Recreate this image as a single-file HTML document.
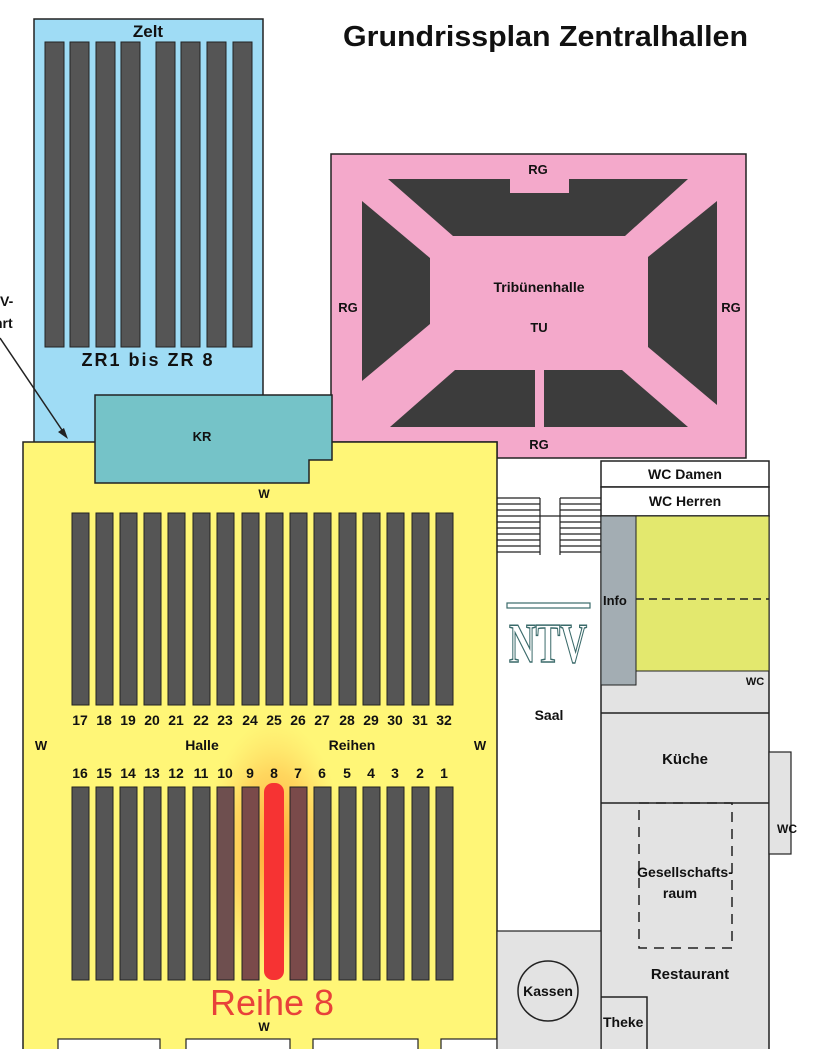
<!DOCTYPE html>
<html><head><meta charset="utf-8"><style>
html,body{margin:0;padding:0;background:#fff;width:819px;height:1049px;overflow:hidden}
svg{display:block}
text{font-family:"Liberation Sans",sans-serif;font-weight:bold;fill:#111}
</style></head><body>
<svg width="819" height="1049" viewBox="0 0 819 1049" xmlns="http://www.w3.org/2000/svg">
<defs>
<radialGradient id="glow" cx="0.5" cy="0.5" r="0.5">
<stop offset="0" stop-color="#ff9a2a" stop-opacity="0.9"/>
<stop offset="0.6" stop-color="#ffb040" stop-opacity="0.45"/>
<stop offset="1" stop-color="#ffd060" stop-opacity="0"/>
</radialGradient>
</defs>
<!-- Title -->
<text x="343" y="46" font-size="29" textLength="405" lengthAdjust="spacingAndGlyphs">Grundrissplan Zentralhallen</text>

<!-- Zelt -->
<rect x="34" y="19" width="229" height="425" fill="#9fdcf5" stroke="#222" stroke-width="1.5"/>
<text x="148" y="37" font-size="17" text-anchor="middle" fill="#222">Zelt</text>
<g fill="#555" stroke="#222" stroke-width="1">
<rect x="45" y="42" width="19" height="305"/><rect x="70" y="42" width="19" height="305"/>
<rect x="96" y="42" width="19" height="305"/><rect x="121" y="42" width="19" height="305"/>
<rect x="156" y="42" width="19" height="305"/><rect x="181" y="42" width="19" height="305"/>
<rect x="207" y="42" width="19" height="305"/><rect x="233" y="42" width="19" height="305"/>
</g>
<text x="148" y="366" font-size="18" text-anchor="middle" letter-spacing="2" fill="#222">ZR1 bis ZR 8</text>

<!-- Pink Tribünenhalle -->
<polygon points="331,154 746,154 746,458 497,458 497,442 331,442" fill="#f4a9cb" stroke="#222" stroke-width="1.5"/>
<g fill="#3c3c3c">
<polygon points="388,179 510,179 510,193 569,193 569,179 688,179 625,236 453,236"/>
<polygon points="362,201 430,258 430,324 362,381"/>
<polygon points="717,201 717,405 648,347 648,257"/>
<polygon points="455,370 535,370 535,427 390,427"/>
<polygon points="544,370 622,370 688,427 544,427"/>
</g>
<text x="538" y="174" font-size="13" text-anchor="middle">RG</text>
<text x="539" y="292" font-size="14" text-anchor="middle">Tribünenhalle</text>
<text x="539" y="332" font-size="13" text-anchor="middle">TU</text>
<text x="348" y="312" font-size="13" text-anchor="middle">RG</text>
<text x="731" y="312" font-size="13" text-anchor="middle">RG</text>
<text x="539" y="449" font-size="13" text-anchor="middle">RG</text>

<!-- Yellow hall -->
<rect x="23" y="442" width="474" height="620" fill="#fff677" stroke="#222" stroke-width="1.5"/>
<!-- KR -->
<polygon points="95,395 332,395 332,460 309,460 309,483 95,483" fill="#75c3c8" stroke="#222" stroke-width="1.5"/>
<text x="202" y="441" font-size="13" text-anchor="middle">KR</text>
<text x="264" y="498" font-size="12" text-anchor="middle">W</text>

<!-- arrow -->
<line x1="0" y1="338" x2="66" y2="436" stroke="#222" stroke-width="1.5"/>
<polygon points="68,439 58,432 64,428" fill="#222"/>
<text x="0" y="306" font-size="14">V-</text>
<text x="-6" y="328" font-size="14">hrt</text>

<!-- Hall rows -->
<g fill="#555" stroke="#222" stroke-width="1">
<rect x="72" y="513" width="17" height="192"/><rect x="96" y="513" width="17" height="192"/>
<rect x="120" y="513" width="17" height="192"/><rect x="144" y="513" width="17" height="192"/>
<rect x="168" y="513" width="17" height="192"/><rect x="193" y="513" width="17" height="192"/>
<rect x="217" y="513" width="17" height="192"/><rect x="242" y="513" width="17" height="192"/>
<rect x="266" y="513" width="17" height="192"/><rect x="290" y="513" width="17" height="192"/>
<rect x="314" y="513" width="17" height="192"/><rect x="339" y="513" width="17" height="192"/>
<rect x="363" y="513" width="17" height="192"/><rect x="387" y="513" width="17" height="192"/>
<rect x="412" y="513" width="17" height="192"/><rect x="436" y="513" width="17" height="192"/>
</g>
<g font-size="14" text-anchor="middle">
<text x="80" y="725">17</text><text x="104" y="725">18</text><text x="128" y="725">19</text><text x="152" y="725">20</text>
<text x="176" y="725">21</text><text x="201" y="725">22</text><text x="225" y="725">23</text><text x="250" y="725">24</text>
<text x="274" y="725">25</text><text x="298" y="725">26</text><text x="322" y="725">27</text><text x="347" y="725">28</text>
<text x="371" y="725">29</text><text x="395" y="725">30</text><text x="420" y="725">31</text><text x="444" y="725">32</text>
</g>
<text x="202" y="750" font-size="14" text-anchor="middle">Halle</text>
<text x="352" y="750" font-size="14" text-anchor="middle">Reihen</text>
<text x="41" y="750" font-size="13" text-anchor="middle">W</text>
<text x="480" y="750" font-size="13" text-anchor="middle">W</text>

<ellipse cx="274" cy="850" rx="70" ry="130" fill="url(#glow)"/>
<g font-size="14" text-anchor="middle">
<text x="80" y="778">16</text><text x="104" y="778">15</text><text x="128" y="778">14</text><text x="152" y="778">13</text>
<text x="176" y="778">12</text><text x="201" y="778">11</text><text x="225" y="778">10</text><text x="250" y="778">9</text>
<text x="274" y="778">8</text><text x="298" y="778">7</text><text x="322" y="778">6</text><text x="347" y="778">5</text>
<text x="371" y="778">4</text><text x="395" y="778">3</text><text x="420" y="778">2</text><text x="444" y="778">1</text>
</g>
<g fill="#555" stroke="#222" stroke-width="1">
<rect x="72" y="787" width="17" height="193"/><rect x="96" y="787" width="17" height="193"/>
<rect x="120" y="787" width="17" height="193"/><rect x="144" y="787" width="17" height="193"/>
<rect x="168" y="787" width="17" height="193"/><rect x="193" y="787" width="17" height="193"/>
<rect x="217" y="787" width="17" height="193" fill="#6e4f4f"/><rect x="242" y="787" width="17" height="193" fill="#7a4a4a"/>
<rect x="290" y="787" width="17" height="193" fill="#7a4a4a"/>
<rect x="314" y="787" width="17" height="193"/><rect x="339" y="787" width="17" height="193"/>
<rect x="363" y="787" width="17" height="193"/><rect x="387" y="787" width="17" height="193"/>
<rect x="412" y="787" width="17" height="193"/><rect x="436" y="787" width="17" height="193"/>
</g>
<rect x="264" y="783" width="20" height="197" rx="9" fill="#f63333"/>
<text x="272" y="1015" font-size="36" text-anchor="middle" style="font-weight:normal;fill:#e8413a">Reihe 8</text>
<text x="264" y="1031" font-size="12" text-anchor="middle">W</text>
<g fill="#fff" stroke="#222" stroke-width="1.2">
<rect x="58" y="1039" width="102" height="20"/><rect x="186" y="1039" width="104" height="20"/>
<rect x="313" y="1039" width="105" height="20"/><rect x="441" y="1039" width="56" height="20"/>
</g>

<!-- Right side -->
<!-- stairs -->
<g stroke="#222" stroke-width="1.2">
<line x1="497" y1="516" x2="601" y2="516"/>
<line x1="497" y1="498" x2="540" y2="498"/><line x1="560" y1="498" x2="601" y2="498"/>
<line x1="540" y1="498" x2="540" y2="555"/><line x1="560" y1="498" x2="560" y2="555"/>
<line x1="497" y1="504" x2="540" y2="504"/><line x1="497" y1="510" x2="540" y2="510"/><line x1="497" y1="522" x2="540" y2="522"/>
<line x1="497" y1="528" x2="540" y2="528"/><line x1="497" y1="534" x2="540" y2="534"/><line x1="497" y1="540" x2="540" y2="540"/>
<line x1="497" y1="546" x2="540" y2="546"/><line x1="497" y1="552" x2="540" y2="552"/>
<line x1="560" y1="504" x2="601" y2="504"/><line x1="560" y1="510" x2="601" y2="510"/><line x1="560" y1="522" x2="601" y2="522"/>
<line x1="560" y1="528" x2="601" y2="528"/><line x1="560" y1="534" x2="601" y2="534"/><line x1="560" y1="540" x2="601" y2="540"/>
<line x1="560" y1="546" x2="601" y2="546"/><line x1="560" y1="552" x2="601" y2="552"/>
</g>
<!-- NTV logo -->
<rect x="507" y="603" width="83" height="5" fill="#fff" stroke="#3a6a6a" stroke-width="1.2"/>
<text x="548" y="662" font-size="56" text-anchor="middle" textLength="78" lengthAdjust="spacingAndGlyphs" style="font-family:'Liberation Serif',serif;fill:#fff;stroke:#3a6a6a;stroke-width:1.5">NTV</text>
<text x="549" y="720" font-size="14" text-anchor="middle">Saal</text>

<!-- WC boxes -->
<rect x="601" y="461" width="168" height="26" fill="#fff" stroke="#222" stroke-width="1.5"/>
<rect x="601" y="487" width="168" height="29" fill="#fff" stroke="#222" stroke-width="1.5"/>
<text x="685" y="479" font-size="14" text-anchor="middle">WC Damen</text>
<text x="685" y="506" font-size="14" text-anchor="middle">WC Herren</text>
<!-- gray block -->
<rect x="601" y="516" width="168" height="540" fill="#e3e3e3" stroke="#222" stroke-width="1.5"/>
<rect x="601" y="516" width="35" height="169" fill="#a3adb3" stroke="#222" stroke-width="1"/>
<rect x="636" y="516" width="133" height="155" fill="#e3e86e" stroke="#222" stroke-width="1"/>
<line x1="636" y1="599" x2="769" y2="599" stroke="#222" stroke-width="1.5" stroke-dasharray="8,5"/>
<text x="603" y="605" font-size="13">Info</text>
<text x="755" y="685" font-size="11" text-anchor="middle">WC</text>
<line x1="601" y1="713" x2="769" y2="713" stroke="#222" stroke-width="1.5"/>
<line x1="601" y1="803" x2="769" y2="803" stroke="#222" stroke-width="1.5"/>
<text x="685" y="764" font-size="15" text-anchor="middle">Küche</text>
<rect x="769" y="752" width="22" height="102" fill="#e3e3e3" stroke="#222" stroke-width="1.2"/>
<text x="787" y="833" font-size="12" text-anchor="middle">WC</text>
<rect x="639" y="803" width="93" height="145" fill="none" stroke="#222" stroke-width="1.5" stroke-dasharray="10,7"/>
<text x="685" y="877" font-size="14" text-anchor="middle">Gesellschafts-</text>
<text x="680" y="898" font-size="14" text-anchor="middle">raum</text>
<text x="690" y="979" font-size="15" text-anchor="middle">Restaurant</text>
<!-- Kassen area -->
<rect x="497" y="931" width="104" height="130" fill="#e3e3e3" stroke="#222" stroke-width="1.2"/>
<circle cx="548" cy="991" r="30" fill="#e3e3e3" stroke="#222" stroke-width="1.5"/>
<text x="548" y="996" font-size="14" text-anchor="middle">Kassen</text>
<polyline points="601,997 647,997 647,1049" fill="none" stroke="#222" stroke-width="1.5"/>
<text x="603" y="1027" font-size="14">Theke</text>
</svg>
</body></html>
